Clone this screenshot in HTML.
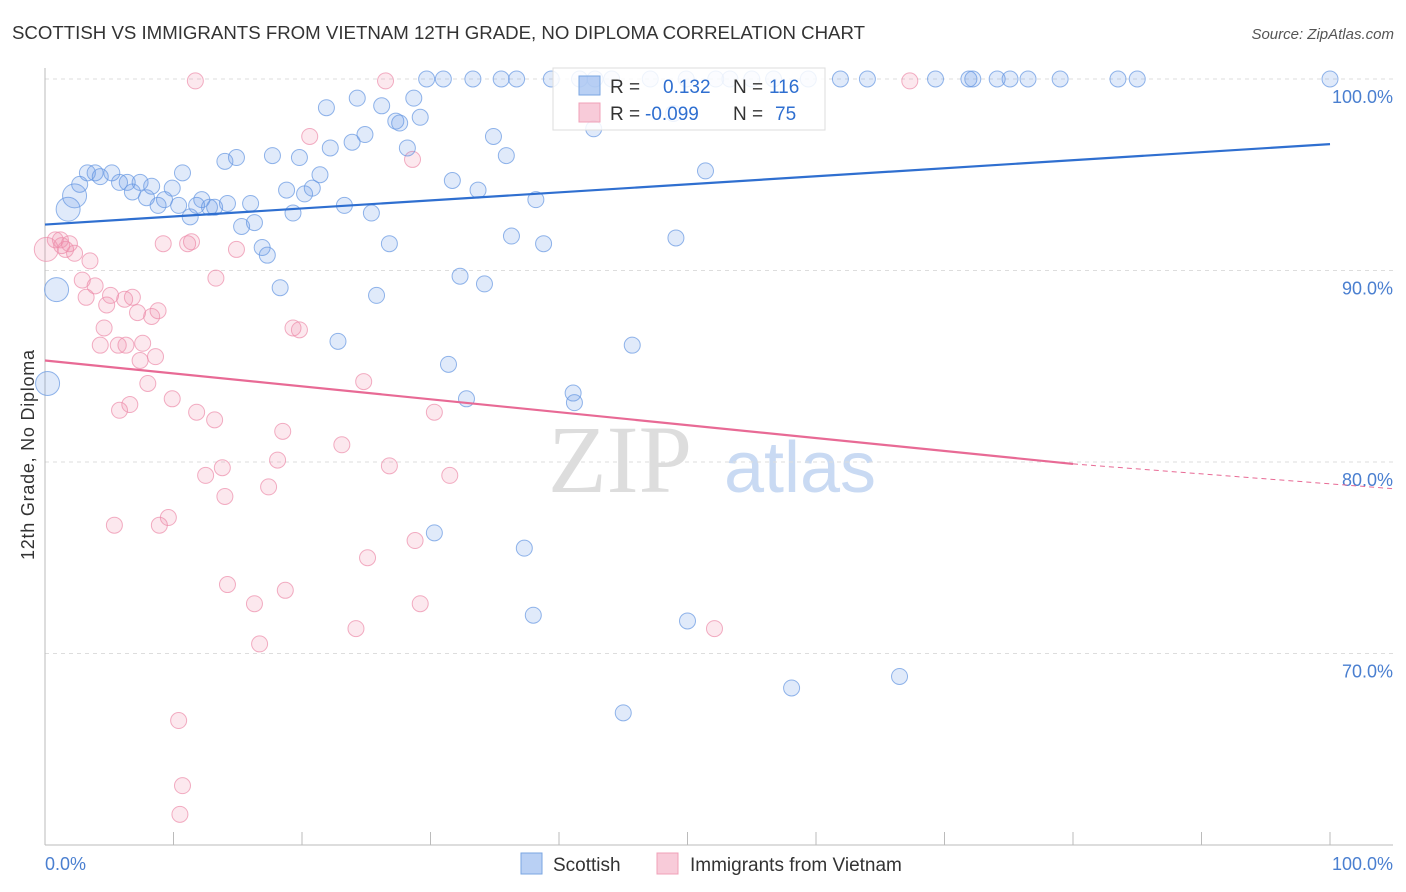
<!DOCTYPE html>
<html><head><meta charset="utf-8"><style>
body{margin:0;background:#fff;font-family:"Liberation Sans",sans-serif}
svg{display:block}
</style></head><body>
<svg id="c" width="1406" height="892">
<text x="12" y="39" font-size="18" fill="#333" textLength="853" lengthAdjust="spacingAndGlyphs">SCOTTISH VS IMMIGRANTS FROM VIETNAM 12TH GRADE, NO DIPLOMA CORRELATION CHART</text>
<text x="1394" y="39" font-size="15" fill="#555" font-style="italic" text-anchor="end">Source: ZipAtlas.com</text>
<text x="34" y="455" font-size="18" fill="#333" text-anchor="middle" textLength="210" transform="rotate(-90 34 455)">12th Grade, No Diploma</text>
<text x="620" y="492" font-size="96" fill="#ddd" font-family="Liberation Serif,serif" text-anchor="middle">ZIP</text>
<text x="800" y="492" font-size="72" fill="#c9daf3" text-anchor="middle">atlas</text>
<g id="grid"></g><g id="pts"></g><g id="lines"></g>
</svg>
<script>
const NS='http://www.w3.org/2000/svg';
const yTicks=[100,90,80,70];
const xTickVals=[0,10,20,30,40,50,60,70,80,90,100];
const bluePx=[[48,384],[57,290],[68,210],[75,195],[80,185],[88,173],[95,172],[100,176],[112,172],[120,183],[127,183],[132,192],[140,183],[147,197],[152,186],[158,205],[165,199],[172,188],[178,206],[183,172],[190,217],[197,205],[202,199],[210,208],[215,207],[228,203],[225,162],[236,158],[242,227],[250,203],[255,223],[262,248],[267,256],[273,155],[280,287],[287,190],[293,214],[300,157],[305,193],[312,188],[320,175],[326,107],[330,147],[338,342],[345,205],[352,142],[357,98],[365,134],[371,214],[377,296],[382,105],[390,243],[396,121],[400,123],[408,148],[414,99],[420,118],[427,79],[443,79],[449,365],[452,180],[460,277],[467,399],[473,79],[478,190],[484,284],[493,137],[501,79],[506,155],[511,236],[517,79],[524,548],[533,616],[536,199],[543,243],[551,79],[573,394],[575,403],[579,79],[594,128],[595,79],[612,79],[623,712],[632,346],[650,79],[676,237],[686,79],[688,620],[706,171],[716,79],[730,79],[752,79],[773,79],[792,688],[808,79],[840,79],[868,79],[899,676],[935,79],[969,79],[973,79],[997,79],[1010,79],[1028,79],[1060,79],[1118,79],[1137,79],[1330,79],[434,533],[674,113]];
const pinkPx=[[46,250],[55,240],[62,245],[70,244],[75,254],[82,280],[86,298],[90,260],[95,285],[100,345],[104,328],[107,305],[111,296],[115,525],[118,345],[120,410],[125,300],[126,345],[130,405],[133,298],[138,313],[140,360],[143,343],[148,383],[152,317],[155,357],[158,310],[160,525],[163,244],[168,517],[172,398],[178,720],[182,785],[180,815],[188,244],[192,242],[195,80],[197,412],[205,475],[215,420],[216,278],[222,468],[225,497],[228,585],[237,250],[255,603],[260,643],[268,487],[278,460],[283,432],[285,590],[293,328],[300,330],[310,137],[342,445],[356,628],[364,381],[368,557],[385,80],[390,465],[413,160],[415,540],[420,603],[434,413],[450,475],[715,628],[910,80],[60,240],[65,250]];
const blueX=bluePx.map(p=>+((p[0]-45)/12.85).toFixed(1));
const blueY=bluePx.map(p=>+(100-(p[1]-79)/19.15).toFixed(1));
const pinkX=pinkPx.map(p=>+((p[0]-45)/12.85).toFixed(1));
const pinkY=pinkPx.map(p=>+(100-(p[1]-79)/19.15).toFixed(1));
const blueBig=[0,1,2,3], pinkBig=[0];
const blueTrend=[[0,92.4],[100,96.6]];
const pinkTrend=[[0,85.3],[80,79.9],[105,78.6]];
const X=v=>45+v*12.85, Y=v=>79+(100-v)*19.15;
const svg=document.getElementById('c');
function mk(t,a,p){const e=document.createElementNS(NS,t);for(const k in a)e.setAttribute(k,a[k]);(p||svg).appendChild(e);return e;}
const grid=document.getElementById('grid');
yTicks.forEach(v=>{
 const l=mk('line',{x1:45,x2:1393,y1:Y(v),y2:Y(v),stroke:'#ddd','stroke-dasharray':'4,4'},grid);
 
 
 const t=mk('text',{x:1393,y:Y(v)+24,'font-size':18,fill:'#4a7fd0','text-anchor':'end'},grid);t.textContent=v.toFixed(1)+'%';
 
 
});
const ax=mk('line',{x1:45,x2:45,y1:68,y2:845,stroke:'#bbb'},grid);


const bx=mk('line',{x1:45,x2:1393,y1:845,y2:845,stroke:'#bbb'},grid);


xTickVals.forEach(v=>{const l=mk('line',{x1:X(v),x2:X(v),y1:845,y2:832,stroke:'#bbb'},grid);
 
 });
[[0,'0.0%','start',45],[100,'100.0%','end',1393]].forEach(d=>{const t=mk('text',{x:d[3],y:870,'font-size':18,fill:'#4a7fd0','text-anchor':d[2]},grid);t.textContent=d[1];
 
 });
const pts=document.getElementById('pts');
function dots(xs,ys,big,fill,stroke,name){xs.forEach((x,i)=>{const c=mk('circle',{cx:X(x),cy:Y(ys[i]),r:big.includes(i)?12:8,fill:fill,stroke:stroke,'stroke-width':1},pts);
 
 });}
dots(pinkX,pinkY,pinkBig,'rgba(240,140,170,0.2)','rgba(236,140,170,0.7)','vietnam-point');
dots(blueX,blueY,blueBig,'rgba(100,150,230,0.2)','rgba(100,150,225,0.7)','scottish-point');
const lg=document.getElementById('lines');
const bl=mk('line',{x1:X(blueTrend[0][0]),y1:Y(blueTrend[0][1]),x2:X(blueTrend[1][0]),y2:Y(blueTrend[1][1]),stroke:'#2f6fd0','stroke-width':2.2},lg);


const pl=mk('line',{x1:X(pinkTrend[0][0]),y1:Y(pinkTrend[0][1]),x2:X(pinkTrend[1][0]),y2:Y(pinkTrend[1][1]),stroke:'#e86a95','stroke-width':2.2},lg);


const pd=mk('line',{x1:X(pinkTrend[1][0]),y1:Y(pinkTrend[1][1]),x2:X(pinkTrend[2][0]),y2:Y(pinkTrend[2][1]),stroke:'#e86a95','stroke-width':1,'stroke-dasharray':'5,4'},lg);


</script>
<svg style="position:absolute;left:0;top:0" width="1406" height="892">
<g>
<rect x="553" y="68" width="272" height="62" fill="rgba(255,255,255,0.85)" stroke="#ddd"/>
<rect x="579" y="76" width="21" height="19" fill="rgba(100,150,230,0.45)" stroke="#7aa6e2"/>
<rect x="579" y="103" width="21" height="19" fill="rgba(240,140,170,0.45)" stroke="#f0a0b8"/>
<text x="610" y="93" font-size="19" fill="#333">R =</text><text x="663" y="93" font-size="19" fill="#2f6fd0">0.132</text>
<text x="733" y="93" font-size="19" fill="#333">N =</text><text x="769" y="93" font-size="19" fill="#2f6fd0">116</text>
<text x="610" y="120" font-size="19" fill="#333">R =</text><text x="645" y="120" font-size="19" fill="#2f6fd0">-0.099</text>
<text x="733" y="120" font-size="19" fill="#333">N =</text><text x="775" y="120" font-size="19" fill="#2f6fd0">75</text>
</g>
<g><rect x="521" y="853" width="21" height="21" fill="rgba(100,150,230,0.45)" stroke="#7aa6e2"/><text x="553" y="871" font-size="19" fill="#333">Scottish</text></g>
<g><rect x="657" y="853" width="21" height="21" fill="rgba(240,140,170,0.45)" stroke="#f0a0b8"/><text x="690" y="871" font-size="19" fill="#333">Immigrants from Vietnam</text></g>
</svg>
</body></html>
